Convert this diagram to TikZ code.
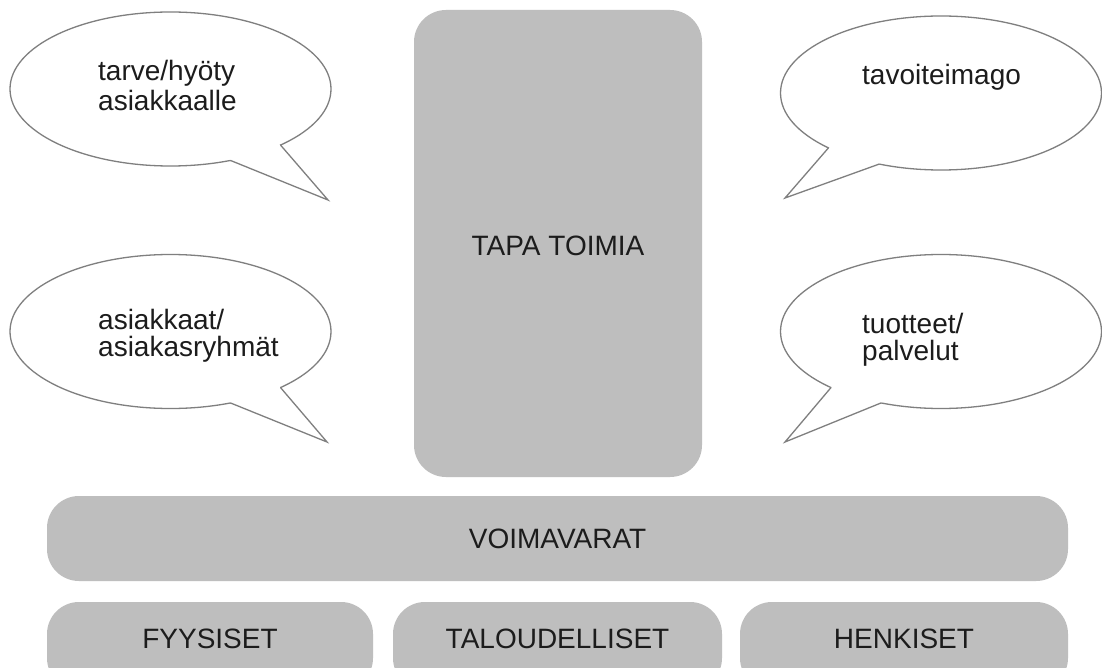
\documentclass[tikz,border=0pt]{standalone}
\usepackage{fontspec}
\setmainfont{Liberation Sans}
\usetikzlibrary{shapes.geometric}
\definecolor{panel}{HTML}{BEBEBE}
\definecolor{rim}{HTML}{7F7F7F}
\definecolor{ink}{HTML}{1C1C1C}
\begin{document}
\begin{tikzpicture}[x=1pt,y=-1pt,
  panelbox/.style={draw=none, fill=panel, rounded corners=32pt, inner sep=0pt, outer sep=0pt},
  bubble/.style={ellipse, draw=rim, fill=white, line width=1.3pt, inner sep=0pt, outer sep=0pt,
                 minimum width=321pt, minimum height=154pt},
  tail/.style={draw=rim, line width=1.3pt, line join=miter, line cap=round},
  txt/.style={font=\fontsize{28}{31}\selectfont, text=ink, inner sep=0pt}]
\useasboundingbox (0,0) rectangle (1102,668);
\clip (0,0) rectangle (1102,668);
\fill[white] (0,0) rectangle (1102,668);

% central block and foundation bars
\node[panelbox, minimum width=288pt, minimum height=467pt] (tapa) at (558,243.5) {};
\node[panelbox, minimum width=1021pt, minimum height=85pt] (voima) at (557.5,538.5) {};
\node[panelbox, minimum width=326pt, minimum height=88pt] (fyys) at (210,646) {};
\node[panelbox, minimum width=329pt, minimum height=88pt] (talous) at (557.5,646) {};
\node[panelbox, minimum width=328pt, minimum height=88pt] (henki) at (904,646) {};

\node[txt, anchor=base] (ttapa) at (558,255) {TAPA TOIMIA};
\node[txt, anchor=base] (tvoima) at (557.5,548) {VOIMAVARAT};
\node[txt, anchor=base] (tfyys) at (210,648) {FYYSISET};
\node[txt, anchor=base] (ttalous) at (557.5,648) {TALOUDELLISET};
\node[txt, anchor=base] (thenki) at (904,648) {HENKISET};

% speech bubbles: ellipse body, tail drawn over the gap
\node[bubble] (b1) at (170.5,89) {};
\coordinate (b1tip) at (328,200);
\fill[white] (b1.-50) -- (b1tip) -- (b1.-27) -- (b1.center) -- cycle;
\draw[tail] (b1.-50) -- (b1tip) -- (b1.-27);

\node[bubble] (b2) at (941,93) {};
\coordinate (b2tip) at (785,198);
\fill[white] (b2.-131) -- (b2tip) -- (b2.-154) -- (b2.center) -- cycle;
\draw[tail] (b2.-131) -- (b2tip) -- (b2.-154);

\node[bubble] (b3) at (170.5,331.5) {};
\coordinate (b3tip) at (327,442);
\fill[white] (b3.-50) -- (b3tip) -- (b3.-27) -- (b3.center) -- cycle;
\draw[tail] (b3.-50) -- (b3tip) -- (b3.-27);

\node[bubble] (b4) at (941,331.5) {};
\coordinate (b4tip) at (785,442);
\fill[white] (b4.-130) -- (b4tip) -- (b4.-153) -- (b4.center) -- cycle;
\draw[tail] (b4.-130) -- (b4tip) -- (b4.-153);

% bubble texts
\node[txt, anchor=base west] (t1a) at (98,81) {tarve/hyöty};
\node[txt, anchor=base west] (t1b) at (98,111) {asiakkaalle};
\node[txt, anchor=base west] (t2a) at (862,85) {tavoiteimago};
\node[txt, anchor=base west] (t3a) at (98,329) {asiakkaat/};
\node[txt, anchor=base west] (t3b) at (98,356) {asiakasryhmät};
\node[txt, anchor=base west] (t4a) at (862,333) {tuotteet/};
\node[txt, anchor=base west] (t4b) at (862,360) {palvelut};
\end{tikzpicture}
\end{document}
